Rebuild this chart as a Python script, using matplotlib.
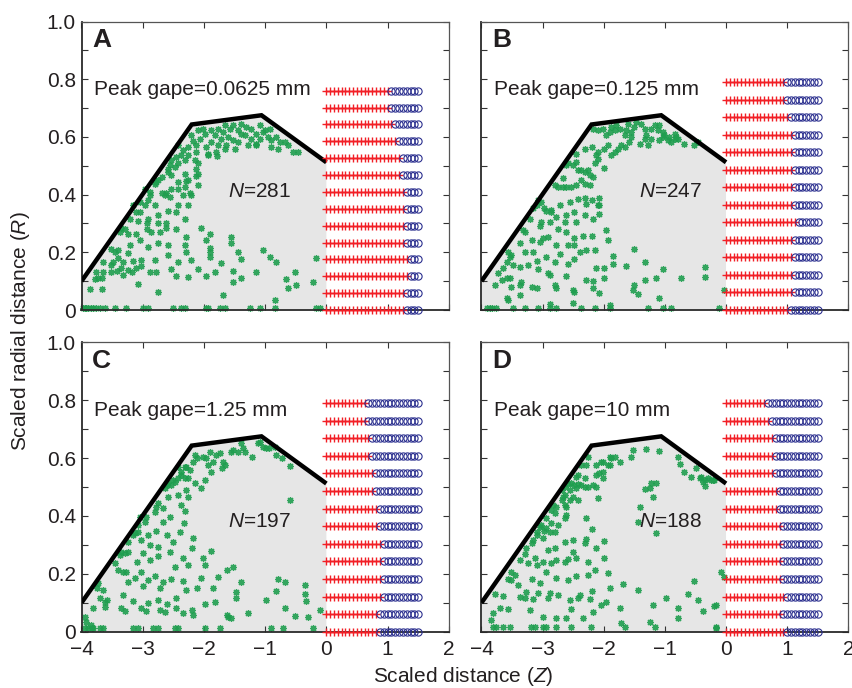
import numpy as np
import matplotlib
matplotlib.use("Agg")
import matplotlib.pyplot as plt
from matplotlib.patches import Polygon

plt.rcParams['font.family'] = ['Liberation Sans', 'DejaVu Sans']
plt.rcParams['mathtext.fontset'] = 'custom'
plt.rcParams['mathtext.rm'] = 'Liberation Sans'
plt.rcParams['mathtext.it'] = 'Liberation Sans:italic'

# ---------------------------------------------------------------- data
# Outline of the sampled region (Z, R)
outline_z = [-4.0, -2.2, -1.06, 0.0]
outline_r = [0.10, 0.643, 0.675, 0.512]

panel_letters = ['A', 'B', 'C', 'D']
peak_gapes = ['0.0625', '0.125', '1.25', '10']
counts = [281, 247, 197, 188]

# Downstream rows: number of '+' samples before the switch to 'o'
grid_step = 0.0625
n_grid = 25
rows_top = [0.76, 0.79, 0.79, 0.79]
n_rows = 14
switch_a = [17, 17, 18, 19, 20, 20, 21, 21, 21, 21, 22, 22, 21, 21]
switch_b = [16, 16, 17, 18, 18, 18, 18, 18, 19, 18, 18, 18, 18, 17]
switch_c = [11, 11, 12, 12, 13, 13, 14, 14, 15, 15, 15, 15, 14, 14]
switch_d = [11, 12, 13, 13, 13, 14, 14, 15, 15, 15, 15, 16, 15, 16]

pts_a = [
    (-3.98, 0.008), (-3.945, 0.008), (-3.92, 0.008), (-3.891, 0.008), (-3.85, 0.008),
    (-3.809, 0.008), (-3.755, 0.008), (-3.70, 0.008), (-3.619, 0.008), (-3.455, 0.008),
    (-3.265, 0.008), (-2.993, 0.008), (-2.911, 0.008), (-2.503, 0.008), (-2.367, 0.008),
    (-2.312, 0.008), (-1.959, 0.008), (-1.932, 0.008), (-1.741, 0.008), (-1.659, 0.008),
    (-1.251, 0.008), (-1.088, 0.008), (-0.843, 0.008), (-0.163, 0.008), (-0.108, 0.008),
    (-3.864, 0.072), (-3.673, 0.072), (-2.748, 0.061), (-1.687, 0.052), (-0.843, 0.035),
    (-0.625, 0.075), (-0.489, 0.087),
    (-3.755, 0.133), (-3.646, 0.133), (-3.782, 0.107), (-3.727, 0.110), (-3.673, 0.112),
    (-3.510, 0.133), (-3.428, 0.136), (-3.510, 0.156), (-3.347, 0.144), (-3.319, 0.121),
    (-3.238, 0.138), (-3.183, 0.133), (-3.102, 0.144), (-3.074, 0.089), (-3.020, 0.153),
    (-2.884, 0.133), (-2.775, 0.133), (-2.530, 0.142), (-2.449, 0.119), (-2.258, 0.115),
    (-2.095, 0.142), (-1.959, 0.119), (-1.823, 0.133), (-1.523, 0.135), (-1.523, 0.098),
    (-1.387, 0.110), (-1.142, 0.133), (-0.653, 0.107), (-0.517, 0.133), (-0.217, 0.096),
    (-0.163, 0.179),
    (-3.646, 0.167), (-3.483, 0.167), (-3.401, 0.179), (-3.319, 0.167), (-3.156, 0.171),
    (-3.020, 0.173), (-2.802, 0.173), (-2.585, 0.190), (-2.421, 0.167), (-2.204, 0.175),
    (-1.904, 0.202), (-1.904, 0.185), (-1.714, 0.164), (-1.442, 0.202), (-1.387, 0.176),
    (-1.034, 0.208), (-0.925, 0.185), (-0.816, 0.167),
    (-3.510, 0.211), (-3.455, 0.202), (-3.401, 0.208), (-3.238, 0.196), (-3.210, 0.225),
    (-3.047, 0.242), (-2.911, 0.219), (-2.748, 0.233), (-2.585, 0.225), (-2.312, 0.225),
    (-2.285, 0.202), (-1.959, 0.242), (-1.904, 0.216), (-1.551, 0.254), (-1.551, 0.231),
    (-3.374, 0.271), (-3.347, 0.283), (-3.292, 0.280), (-3.238, 0.265), (-3.102, 0.265),
    (-2.938, 0.280), (-2.857, 0.271), (-2.721, 0.269), (-2.612, 0.283), (-2.449, 0.280),
    (-2.285, 0.254), (-2.040, 0.285), (-1.904, 0.265),
    (-3.210, 0.317), (-3.074, 0.308), (-3.047, 0.340), (-2.938, 0.300), (-2.911, 0.317),
    (-2.748, 0.329), (-2.748, 0.300), (-2.612, 0.300), (-2.585, 0.343), (-2.449, 0.338),
    (-2.312, 0.315),
    (-3.156, 0.363), (-3.102, 0.340), (-3.047, 0.375), (-2.966, 0.363), (-2.911, 0.381),
    (-2.884, 0.398), (-2.802, 0.363), (-2.693, 0.404), (-2.612, 0.407), (-2.557, 0.392),
    (-2.421, 0.363), (-2.258, 0.363), (-2.231, 0.404),
    (-2.966, 0.421), (-2.884, 0.409), (-2.802, 0.438), (-2.748, 0.450), (-2.639, 0.398),
    (-2.530, 0.421), (-2.421, 0.421), (-2.340, 0.400), (-2.312, 0.427), (-2.285, 0.446),
    (-2.204, 0.398), (-2.095, 0.435), (-2.122, 0.465),
    (-2.775, 0.444), (-2.693, 0.461), (-2.585, 0.479), (-2.530, 0.467), (-2.476, 0.496),
    (-2.421, 0.444), (-2.312, 0.473), (-2.258, 0.450), (-2.122, 0.490), (-2.095, 0.473),
    (-2.557, 0.502),
    (-2.585, 0.490), (-2.530, 0.519), (-2.449, 0.531), (-2.421, 0.508), (-2.367, 0.536),
    (-2.312, 0.519), (-2.258, 0.536), (-2.149, 0.519), (-2.122, 0.548), (-2.095, 0.508),
    (-1.932, 0.539), (-1.779, 0.534), (-1.659, 0.559),
    (-2.421, 0.571), (-2.340, 0.554), (-2.258, 0.565), (-2.204, 0.606), (-2.176, 0.585),
    (-2.122, 0.571), (-2.068, 0.594), (-1.986, 0.611), (-1.959, 0.565), (-1.877, 0.582),
    (-1.823, 0.606), (-1.768, 0.571), (-1.714, 0.594), (-1.632, 0.571), (-1.605, 0.600),
    (-1.523, 0.588), (-1.442, 0.582), (-1.387, 0.611), (-1.333, 0.606), (-1.278, 0.571),
    (-1.224, 0.594), (-1.142, 0.577), (-1.088, 0.594), (-1.034, 0.617), (-0.952, 0.600),
    (-0.897, 0.588), (-0.816, 0.600), (-0.761, 0.582), (-0.680, 0.582), (-0.625, 0.571),
    (-0.544, 0.548), (-0.462, 0.548), (-0.789, 0.559), (-0.897, 0.565), (-1.142, 0.571),
    (-1.496, 0.559), (-1.795, 0.548), (-1.932, 0.536),
    (-2.095, 0.623), (-2.013, 0.629), (-1.877, 0.623), (-1.768, 0.629), (-1.687, 0.617),
    (-1.659, 0.640), (-1.578, 0.629), (-1.523, 0.640), (-1.442, 0.623), (-1.387, 0.646),
    (-1.306, 0.634), (-1.224, 0.629), (-1.142, 0.611), (-1.088, 0.640), (-1.006, 0.623),
    (-0.925, 0.629),
]

pts_b = [
    (-3.918, 0.008), (-3.864, 0.008), (-3.836, 0.008), (-3.755, 0.008), (-3.483, 0.008),
    (-3.292, 0.008), (-3.074, 0.008), (-2.884, 0.008), (-2.775, 0.008), (-2.367, 0.008),
    (-2.149, 0.008), (-1.904, 0.008), (-1.278, 0.008), (-1.034, 0.008), (-0.897, 0.008),
    (-0.108, 0.008),
    (-3.59, 0.043), (-3.56, 0.035), (-3.37, 0.052), (-2.88, 0.020), (-2.50, 0.023),
    (-1.90, 0.017), (-1.44, 0.054), (-1.52, 0.069), (-1.09, 0.040),
    (-3.78, 0.087), (-3.67, 0.104), (-3.59, 0.110), (-3.54, 0.110), (-3.51, 0.081),
    (-3.37, 0.087), (-3.35, 0.096), (-3.18, 0.081), (-3.10, 0.075), (-2.91, 0.127),
    (-2.80, 0.087), (-2.78, 0.077), (-2.61, 0.119), (-2.50, 0.069), (-2.48, 0.063),
    (-2.29, 0.104), (-2.18, 0.077), (-2.07, 0.058), (-1.99, 0.110), (-2.18, 0.100),
    (-1.50, 0.087), (-1.33, 0.104), (-1.14, 0.110), (-0.73, 0.112), (-0.35, 0.115),
    (-0.35, 0.148), (-0.04, 0.069),
    (-3.73, 0.127), (-3.65, 0.144), (-3.59, 0.167), (-3.54, 0.185), (-3.48, 0.156),
    (-3.37, 0.150), (-3.24, 0.156), (-3.10, 0.170), (-3.07, 0.142), (-2.94, 0.185),
    (-2.88, 0.123), (-2.80, 0.165), (-2.72, 0.193), (-2.59, 0.161), (-2.48, 0.176),
    (-2.39, 0.202), (-2.29, 0.208), (-2.15, 0.208), (-2.12, 0.144), (-1.99, 0.146),
    (-1.85, 0.158), (-1.85, 0.188), (-1.63, 0.153), (-1.51, 0.211), (-1.33, 0.167),
    (-1.03, 0.142),
    (-3.56, 0.202), (-3.51, 0.190), (-3.37, 0.231), (-3.29, 0.202), (-3.18, 0.242),
    (-3.16, 0.202), (-3.05, 0.236), (-2.99, 0.250), (-2.91, 0.254), (-2.78, 0.227),
    (-2.75, 0.280), (-2.61, 0.271), (-2.59, 0.227), (-2.48, 0.248), (-2.48, 0.227),
    (-2.34, 0.256), (-2.20, 0.257), (-1.96, 0.277), (-1.93, 0.242),
    (-3.32, 0.277), (-3.29, 0.271), (-3.21, 0.315), (-3.05, 0.292), (-3.02, 0.306),
    (-2.88, 0.306), (-2.86, 0.340), (-2.78, 0.323), (-2.64, 0.306), (-2.61, 0.329),
    (-2.45, 0.306), (-2.48, 0.340), (-2.31, 0.329), (-2.18, 0.317), (-2.07, 0.334),
    (-2.10, 0.363),
    (-3.16, 0.352), (-3.10, 0.363), (-3.07, 0.381), (-3.02, 0.375), (-2.97, 0.352),
    (-2.94, 0.343), (-2.86, 0.346), (-2.72, 0.363), (-2.56, 0.375), (-2.42, 0.386),
    (-2.29, 0.369), (-2.20, 0.381), (-2.07, 0.389), (-2.07, 0.363),
    (-2.80, 0.433), (-2.75, 0.427), (-2.67, 0.427), (-2.61, 0.427), (-2.53, 0.427),
    (-2.45, 0.433), (-2.37, 0.450), (-2.31, 0.438), (-2.23, 0.435), (-2.18, 0.461),
    (-2.67, 0.456), (-2.31, 0.389), (-2.31, 0.479), (-2.37, 0.484), (-2.42, 0.484),
    (-2.61, 0.502), (-2.59, 0.508), (-2.50, 0.504), (-2.45, 0.513), (-2.23, 0.467),
    (-2.15, 0.508), (-2.10, 0.525), (-2.00, 0.493), (-2.26, 0.484),
    (-2.45, 0.542), (-2.31, 0.559), (-2.20, 0.565), (-2.12, 0.536), (-2.10, 0.548),
    (-1.99, 0.559), (-1.93, 0.571), (-1.88, 0.536), (-1.82, 0.548), (-1.77, 0.559),
    (-1.71, 0.571), (-1.66, 0.565), (-1.58, 0.582), (-1.55, 0.600), (-1.41, 0.577),
    (-1.33, 0.594), (-1.28, 0.571), (-1.22, 0.594), (-1.09, 0.588), (-1.03, 0.600),
    (-0.95, 0.588), (-0.90, 0.582), (-0.84, 0.594), (-0.79, 0.594), (-0.68, 0.577),
    (-0.52, 0.571), (-0.46, 0.582),
    (-2.18, 0.629), (-2.10, 0.623), (-2.01, 0.626), (-1.96, 0.606), (-1.90, 0.617),
    (-1.88, 0.634), (-1.82, 0.623), (-1.80, 0.640), (-1.74, 0.629), (-1.66, 0.606),
    (-1.63, 0.623), (-1.61, 0.646), (-1.55, 0.617), (-1.50, 0.634), (-1.47, 0.652),
    (-1.39, 0.646), (-1.33, 0.629), (-1.31, 0.606), (-1.22, 0.629), (-1.17, 0.640),
    (-1.12, 0.623), (-1.09, 0.640), (-1.03, 0.617), (-1.01, 0.606), (-0.93, 0.600),
    (-0.84, 0.611), (-0.82, 0.600),
]

pts_c = [
    (-3.945, 0.014), (-3.891, 0.014), (-3.836, 0.014), (-3.809, 0.014), (-3.700, 0.014),
    (-3.646, 0.014), (-3.156, 0.014), (-3.074, 0.014), (-2.830, 0.014), (-2.748, 0.014),
    (-2.476, 0.014), (-2.421, 0.014), (-1.986, 0.014), (-1.741, 0.014), (-0.897, 0.014),
    (-0.707, 0.014), (-0.217, 0.014),
    (-3.95, 0.052), (-3.92, 0.035), (-3.84, 0.023), (-3.81, 0.081), (-3.62, 0.086),
    (-3.35, 0.081), (-3.29, 0.073), (-3.02, 0.081), (-2.94, 0.071), (-2.72, 0.075),
    (-2.64, 0.069), (-2.45, 0.081), (-2.34, 0.063), (-2.20, 0.075), (-2.18, 0.058),
    (-1.99, 0.094), (-1.63, 0.058), (-1.61, 0.052), (-1.55, 0.048), (-1.28, 0.063),
    (-0.98, 0.109), (-0.68, 0.081), (-0.52, 0.054), (-0.30, 0.052), (-0.11, 0.075),
    (-3.70, 0.118), (-3.62, 0.104), (-3.59, 0.109), (-3.32, 0.127), (-3.16, 0.107),
    (-2.91, 0.098), (-2.75, 0.109), (-2.61, 0.094), (-2.45, 0.118), (-2.29, 0.144),
    (-2.12, 0.150), (-1.85, 0.150), (-1.82, 0.104), (-1.47, 0.138), (-1.47, 0.115),
    (-0.82, 0.141), (-0.35, 0.129), (-0.34, 0.106),
    (-3.75, 0.150), (-3.73, 0.167), (-3.65, 0.144), (-3.46, 0.236), (-3.40, 0.213),
    (-3.32, 0.207), (-3.27, 0.207), (-3.24, 0.173), (-3.13, 0.184), (-3.02, 0.207),
    (-2.99, 0.159), (-2.91, 0.179), (-2.80, 0.194), (-2.72, 0.150), (-2.67, 0.173),
    (-2.53, 0.182), (-2.34, 0.175), (-2.26, 0.230), (-2.04, 0.184), (-1.99, 0.230),
    (-1.77, 0.190), (-1.63, 0.213), (-1.52, 0.225), (-1.39, 0.173), (-0.79, 0.182),
    (-0.68, 0.171), (-0.35, 0.161),
    (-3.37, 0.265), (-3.35, 0.276), (-3.29, 0.271), (-3.24, 0.276), (-3.10, 0.240),
    (-2.99, 0.271), (-2.88, 0.248), (-2.75, 0.263), (-2.75, 0.294), (-2.56, 0.276),
    (-2.48, 0.225), (-2.34, 0.256), (-2.20, 0.290), (-2.01, 0.256), (-1.88, 0.279),
    (-3.24, 0.311), (-3.16, 0.334), (-3.13, 0.340), (-3.02, 0.317), (-2.91, 0.334),
    (-2.88, 0.300), (-2.78, 0.348), (-2.67, 0.380), (-2.61, 0.334), (-2.50, 0.311),
    (-2.39, 0.346), (-2.32, 0.374), (-2.18, 0.325), (-3.07, 0.346),
    (-3.07, 0.369), (-3.05, 0.397), (-2.97, 0.380), (-2.94, 0.397), (-2.80, 0.415),
    (-2.78, 0.432), (-2.75, 0.444), (-2.67, 0.426), (-2.59, 0.467), (-2.56, 0.397),
    (-2.42, 0.472), (-2.37, 0.438), (-2.31, 0.417), (-2.29, 0.490), (-2.26, 0.467),
    (-2.61, 0.507), (-2.53, 0.507), (-2.64, 0.495), (-2.59, 0.513), (-2.50, 0.524),
    (-2.48, 0.518), (-2.42, 0.530), (-2.37, 0.541), (-2.31, 0.530), (-2.26, 0.530),
    (-2.15, 0.513), (-2.04, 0.495), (-1.99, 0.524), (-2.29, 0.570), (-2.23, 0.559),
    (-2.18, 0.588), (-2.42, 0.570), (-2.37, 0.553), (-2.31, 0.570),
    (-2.15, 0.611), (-2.12, 0.599), (-2.01, 0.605), (-1.96, 0.599), (-1.93, 0.576),
    (-1.90, 0.622), (-1.88, 0.553), (-1.85, 0.588), (-1.80, 0.611), (-1.74, 0.616),
    (-1.71, 0.565), (-1.69, 0.588), (-1.66, 0.576), (-1.55, 0.622), (-1.52, 0.628),
    (-1.44, 0.622), (-1.39, 0.651), (-1.36, 0.634), (-1.33, 0.622), (-1.22, 0.605),
    (-1.12, 0.651), (-1.09, 0.657), (-1.03, 0.639), (-0.98, 0.634), (-0.93, 0.634),
    (-0.82, 0.611), (-0.73, 0.599), (-0.60, 0.574), (-0.60, 0.455), (-0.84, 0.639),
]

pts_d = [
    (-3.809, 0.017), (-3.755, 0.017), (-3.646, 0.017), (-3.537, 0.017), (-3.183, 0.017),
    (-3.129, 0.017), (-2.993, 0.017), (-2.938, 0.017), (-2.775, 0.017), (-2.530, 0.017),
    (-2.204, 0.017), (-1.659, 0.017), (-1.170, 0.017), (-0.163, 0.017),
    (-3.84, 0.040), (-3.81, 0.063), (-3.70, 0.083), (-3.56, 0.078), (-3.21, 0.075),
    (-2.99, 0.052), (-2.78, 0.048), (-2.61, 0.046), (-2.53, 0.078), (-2.34, 0.048),
    (-2.18, 0.069), (-1.96, 0.101), (-1.74, 0.081), (-1.71, 0.029), (-1.25, 0.032),
    (-0.79, 0.048), (-0.79, 0.081), (-0.38, 0.071), (-0.19, 0.090), (-0.16, 0.012),
    (-3.78, 0.129), (-3.65, 0.124), (-3.37, 0.121), (-3.29, 0.115), (-3.16, 0.113),
    (-3.07, 0.132), (-2.91, 0.115), (-2.88, 0.132), (-2.75, 0.127), (-2.56, 0.109),
    (-2.42, 0.115), (-2.39, 0.127), (-2.23, 0.113), (-2.20, 0.141), (-2.04, 0.092),
    (-1.90, 0.150), (-1.69, 0.164), (-1.44, 0.144), (-1.20, 0.092), (-0.98, 0.118),
    (-0.63, 0.129), (-0.46, 0.109), (-0.17, 0.092),
    (-3.56, 0.182), (-3.51, 0.179), (-3.46, 0.196), (-3.40, 0.161), (-3.27, 0.138),
    (-3.18, 0.182), (-3.05, 0.167), (-2.94, 0.207), (-2.78, 0.184), (-2.59, 0.179),
    (-2.45, 0.194), (-2.26, 0.196), (-2.15, 0.213), (-1.93, 0.202), (-0.52, 0.175),
    (-0.08, 0.207), (-0.03, 0.190),
    (-3.51, 0.207), (-3.37, 0.248), (-3.29, 0.267), (-3.24, 0.236), (-3.13, 0.253),
    (-3.10, 0.230), (-2.99, 0.242), (-2.86, 0.238), (-2.78, 0.248), (-2.64, 0.242),
    (-2.59, 0.250), (-2.50, 0.274), (-2.45, 0.253), (-2.26, 0.242), (-1.99, 0.256),
    (-3.27, 0.288), (-3.18, 0.305), (-3.16, 0.317), (-3.10, 0.334), (-2.99, 0.323),
    (-2.91, 0.282), (-2.80, 0.290), (-2.64, 0.311), (-2.50, 0.317), (-2.31, 0.305),
    (-2.29, 0.320), (-2.12, 0.288), (-1.99, 0.313),
    (-3.10, 0.346), (-3.05, 0.363), (-3.02, 0.369), (-2.97, 0.348), (-2.94, 0.357),
    (-2.88, 0.346), (-2.94, 0.392), (-2.80, 0.346), (-2.75, 0.369), (-2.64, 0.392),
    (-2.29, 0.394), (-2.20, 0.355), (-2.86, 0.374),
    (-2.86, 0.420), (-2.83, 0.438), (-2.78, 0.432), (-2.69, 0.455), (-2.67, 0.467),
    (-2.64, 0.438), (-2.61, 0.432), (-2.64, 0.472), (-2.56, 0.455), (-2.50, 0.467),
    (-2.42, 0.455), (-2.61, 0.403), (-2.10, 0.461), (-1.44, 0.380), (-1.14, 0.340),
    (-1.41, 0.432), (-2.80, 0.409),
    (-2.69, 0.490), (-2.64, 0.501), (-2.59, 0.509), (-2.53, 0.513), (-2.48, 0.507),
    (-2.42, 0.509), (-2.37, 0.507), (-2.31, 0.501), (-2.26, 0.501), (-2.18, 0.507),
    (-2.12, 0.501), (-2.56, 0.490), (-2.45, 0.495),
    (-2.45, 0.536), (-2.42, 0.541), (-2.31, 0.530), (-2.12, 0.541), (-2.07, 0.547),
    (-2.01, 0.553), (-2.01, 0.530), (-2.37, 0.576), (-2.29, 0.576), (-2.12, 0.576),
    (-2.01, 0.588), (-1.93, 0.576), (-1.88, 0.599), (-1.82, 0.605), (-1.74, 0.588),
    (-1.55, 0.605), (-1.90, 0.576), (-2.26, 0.605), (-2.04, 0.588), (-1.90, 0.605),
    (-1.52, 0.628), (-1.31, 0.631), (-1.09, 0.624), (-0.79, 0.605), (-0.76, 0.579),
    (-1.22, 0.513), (-1.14, 0.513), (-1.25, 0.495), (-1.20, 0.467),
    (-0.68, 0.553), (-0.57, 0.536), (-0.49, 0.565), (-0.43, 0.530), (-0.41, 0.536),
    (-0.35, 0.524), (-0.30, 0.530), (-0.24, 0.524), (-0.22, 0.524), (-0.35, 0.505),
    (-0.38, 0.518), (-0.19, 0.524), (-1.33, 0.493),
]

# ---------------------------------------------------------------- styles
GREEN = '#1f9e4f'
RED = '#f21f26'
BLUE = '#2b2f8f'
FILL = '#e6e6e6'
TEXT = '#231f20'
FS = 15

W, H = 853, 688
fig = plt.figure(figsize=(W / 100, H / 100), dpi=100)

# axes rectangles in pixels: (left, right, top, bottom)
boxes = [
    (81.5, 448.8, 21.5, 310.0),
    (481.5, 848.3, 21.5, 310.0),
    (81.5, 448.8, 342.3, 631.7),
    (481.5, 848.3, 342.3, 631.7),
]

all_pts = [pts_a, pts_b, pts_c, pts_d]
all_switch = [switch_a, switch_b, switch_c, switch_d]
asterisk = (8, 2, 0)

for i, (l, r, t, b) in enumerate(boxes):
    ax = fig.add_axes([l / W, 1 - b / H, (r - l) / W, (b - t) / H])
    ax.set_xlim(-4, 2)
    ax.set_ylim(0, 1)

    # shaded sampling region
    verts = list(zip(outline_z, outline_r)) + [(0.0, 0.0), (-4.0, 0.0)]
    ax.add_patch(Polygon(verts, closed=True, facecolor=FILL, edgecolor='none', zorder=1))

    pz, pr = zip(*all_pts[i])
    ax.plot(pz, pr, linestyle='none', marker=asterisk, markersize=5.0,
            markeredgewidth=0.9, color=GREEN, alpha=0.9, zorder=2, clip_on=False)

    ax.plot(outline_z, outline_r, color='black', linewidth=3.2,
            solid_capstyle='butt', solid_joinstyle='miter', zorder=3)

    # downstream rows
    z_grid = np.arange(n_grid) * grid_step
    row_y = np.linspace(rows_top[i], 0.0, n_rows)
    for yv, k in zip(row_y, all_switch[i]):
        zr = z_grid[:k]
        zb = z_grid[k:]
        ax.plot(zr, np.full(len(zr), yv), color=RED, linewidth=1.0, marker='+',
                markersize=5.5, markeredgewidth=1.0, zorder=4, clip_on=False)
        ax.plot(zb, np.full(len(zb), yv), linestyle='none', marker='o',
                markersize=5.2, markerfacecolor='none', markeredgecolor=BLUE,
                markeredgewidth=0.8, zorder=4, clip_on=False)

    # text
    ax.text(-3.83, 0.935, panel_letters[i], fontsize=19, fontweight='bold',
            color=TEXT, va='center', ha='left', zorder=5)
    ax.text(-3.80, 0.765, 'Peak gape=' + peak_gapes[i] + ' mm', fontsize=FS,
            color=TEXT, va='center', ha='left', zorder=5)
    nx = -1.6 if i in (0, 2) else -1.42
    ny = 0.41 if i < 2 else 0.38
    ax.text(nx, ny, '$N$=' + str(counts[i]), fontsize=FS, color=TEXT,
            va='center', ha='left', zorder=5)

    # ticks
    ax.set_xticks(np.arange(-4, 3, 1))
    ax.set_yticks(np.round(np.arange(0, 1.01, 0.1), 1))
    ylabels = ['0', '', '0.2', '', '0.4', '', '0.6', '', '0.8', '', '1.0']
    if i in (0, 2):
        ax.set_yticklabels(ylabels)
    else:
        ax.set_yticklabels([])
    if i >= 2:
        ax.set_xticklabels(['\u22124', '\u22123', '\u22122', '\u22121', '0', '1', '2'])
    else:
        ax.set_xticklabels([])
    ax.tick_params(direction='in', length=4, width=0.8, colors='#333333',
                   labelsize=FS, labelcolor=TEXT, top=True, right=True, pad=4)
    ax.tick_params(axis='x', pad=6)
    for side in ('left', 'bottom'):
        ax.spines[side].set_linewidth(1.3)
        ax.spines[side].set_color('#2a2a2a')
    for side in ('top', 'right'):
        ax.spines[side].set_linewidth(0.9)
        ax.spines[side].set_color('#555555')
    ax.set_facecolor('white')

fig.text(0.024, 0.519, 'Scaled radial distance ($R$)', rotation=90, fontsize=FS,
         color=TEXT, ha='center', va='center')
fig.text(0.543, 0.016, 'Scaled distance ($Z$)', fontsize=FS, color=TEXT,
         ha='center', va='center')

fig.savefig('out.png', dpi=100)
